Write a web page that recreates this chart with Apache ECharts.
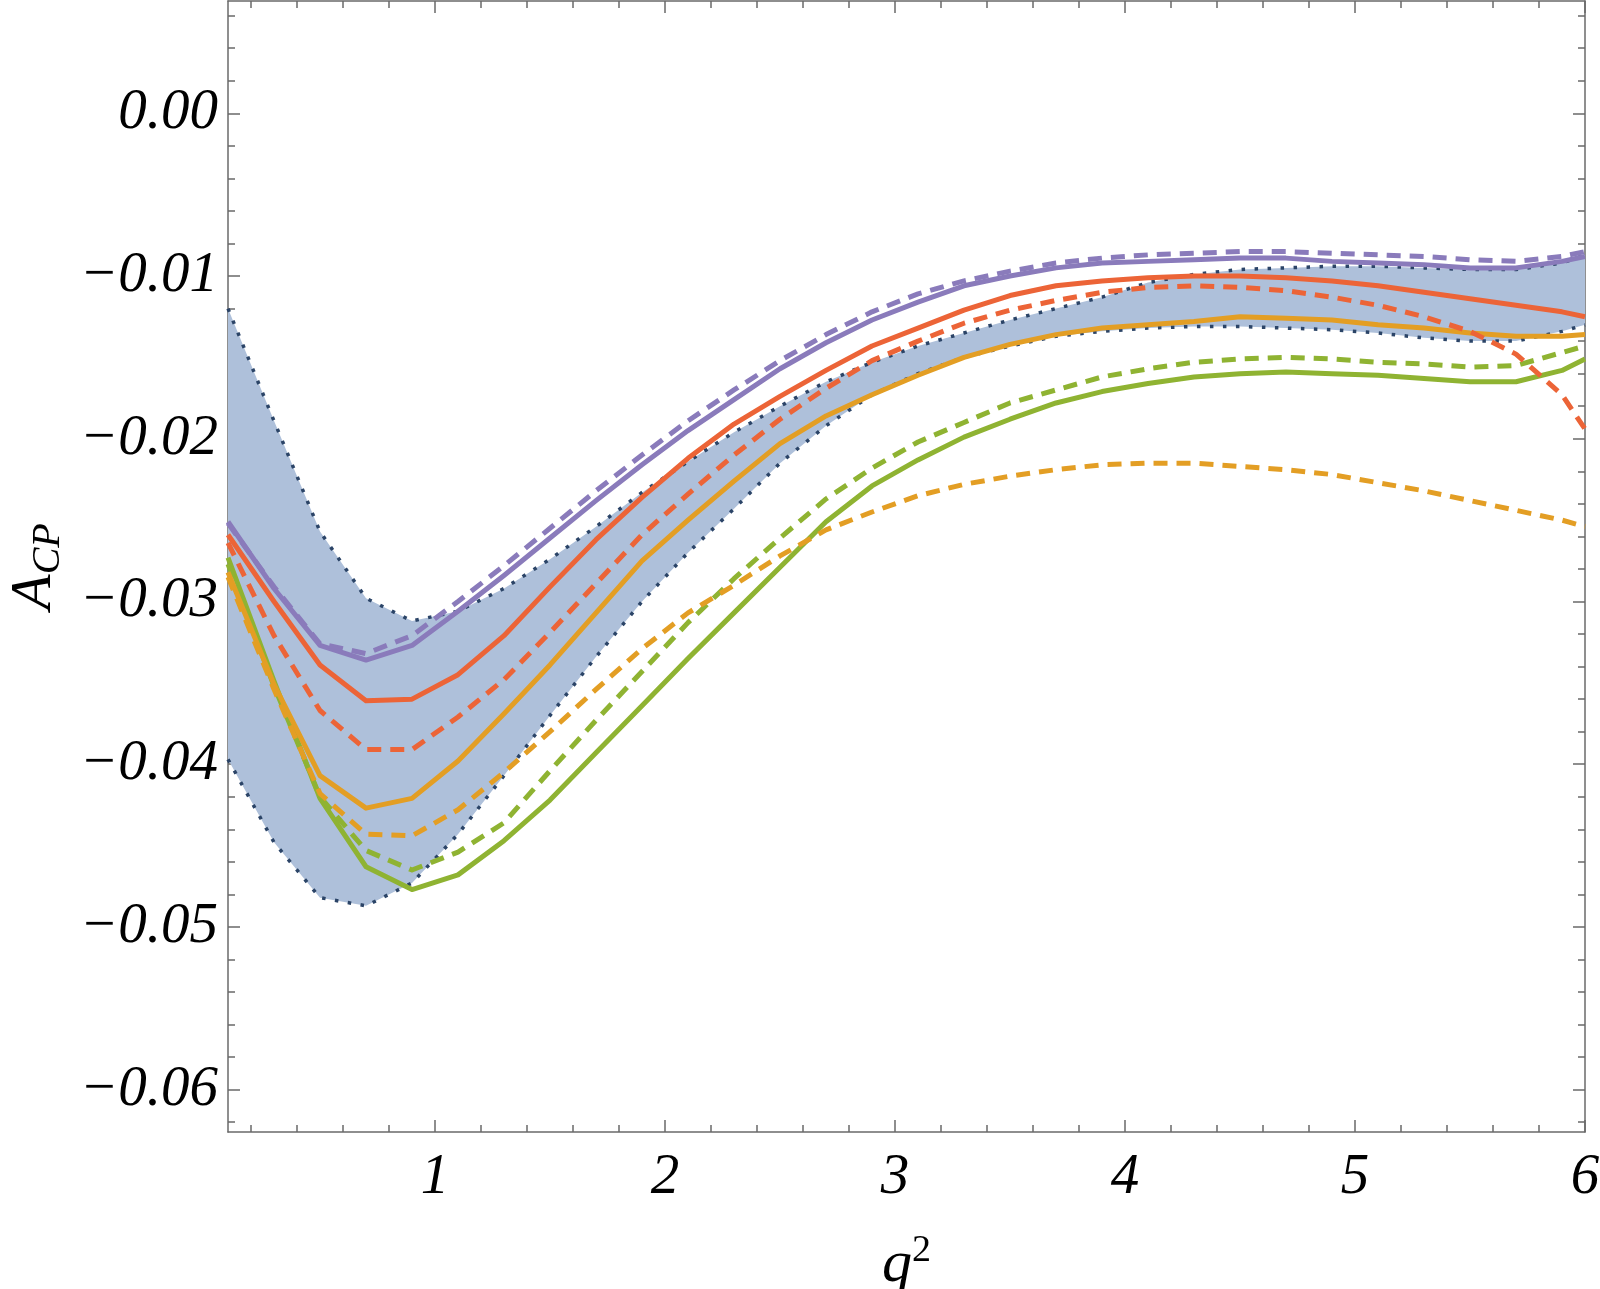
<!DOCTYPE html>
<html>
<head>
<meta charset="utf-8">
<title>A_CP vs q^2</title>
<script src="https://cdn.jsdelivr.net/npm/echarts@6/dist/echarts.min.js"></script>
<style>
  html, body { margin: 0; padding: 0; background: #fff; }
  #chart { width: 1600px; height: 1289px; }
</style>
</head>
<body>
<div id="chart"></div>
<script>
// sample points in q^2
const q2 = [0.1, 0.3, 0.5, 0.7, 0.9, 1.1, 1.3, 1.5, 1.7, 1.9, 2.1, 2.3, 2.5, 2.7, 2.9, 3.1,
  3.3, 3.5, 3.7, 3.9, 4.1, 4.3, 4.5, 4.7, 4.9, 5.1, 5.3, 5.5, 5.7, 5.9, 6.0];

// shaded band (dotted edges)
const bandUpper = [-0.0120, -0.0189, -0.0257, -0.0298, -0.0312, -0.0306, -0.0292, -0.0274, -0.0254, -0.0233,
  -0.0214, -0.0196, -0.0180, -0.0165, -0.0153, -0.0143, -0.0135, -0.0127, -0.0120, -0.0113,
  -0.0104, -0.0099, -0.0096, -0.0095, -0.0094, -0.0094, -0.0095, -0.0096, -0.0096, -0.0092, -0.0087];
const bandLower = [-0.0397, -0.0448, -0.0482, -0.0487, -0.0473, -0.0443, -0.0407, -0.0370, -0.0334, -0.0300,
  -0.0270, -0.0243, -0.0215, -0.0192, -0.0173, -0.0160, -0.0150, -0.0143, -0.0137, -0.0134,
  -0.0132, -0.0131, -0.0131, -0.0132, -0.0133, -0.0135, -0.0138, -0.0140, -0.0140, -0.0134, -0.0130];

const purpleSolid = [-0.0251, -0.0292, -0.0327, -0.0336, -0.0327, -0.0306, -0.0284, -0.0261, -0.0238, -0.0216,
  -0.0195, -0.0176, -0.0157, -0.0141, -0.0127, -0.0116, -0.0106, -0.0100, -0.0095, -0.0092,
  -0.0091, -0.0090, -0.0089, -0.0089, -0.0091, -0.0092, -0.0093, -0.0095, -0.0095, -0.0091, -0.0088];
const purpleDashed = [-0.0252, -0.0291, -0.0326, -0.0332, -0.0321, -0.0300, -0.0278, -0.0255, -0.0232, -0.0210,
  -0.0189, -0.0170, -0.0152, -0.0136, -0.0122, -0.0111, -0.0103, -0.0097, -0.0092, -0.0089,
  -0.0087, -0.0086, -0.0085, -0.0085, -0.0086, -0.0087, -0.0088, -0.0090, -0.0091, -0.0088, -0.0085];

const redSolid = [-0.0259, -0.0300, -0.0339, -0.0361, -0.0360, -0.0345, -0.0321, -0.0291, -0.0262, -0.0236,
  -0.0212, -0.0191, -0.0174, -0.0158, -0.0143, -0.0132, -0.0121, -0.0112, -0.0106, -0.0103,
  -0.0101, -0.0100, -0.0100, -0.0101, -0.0103, -0.0106, -0.0110, -0.0114, -0.0118, -0.0122, -0.0125];
const redDashed = [-0.0264, -0.0321, -0.0367, -0.0391, -0.0391, -0.0371, -0.0348, -0.0319, -0.0289, -0.0259,
  -0.0234, -0.0210, -0.0188, -0.0169, -0.0152, -0.0140, -0.0129, -0.0121, -0.0115, -0.0110,
  -0.0107, -0.0106, -0.0107, -0.0109, -0.0113, -0.0118, -0.0125, -0.0134, -0.0148, -0.0173, -0.0194];

const orangeSolid = [-0.0282, -0.0351, -0.0407, -0.0427, -0.0421, -0.0398, -0.0369, -0.0339, -0.0307, -0.0275,
  -0.0250, -0.0226, -0.0203, -0.0186, -0.0173, -0.0161, -0.0150, -0.0142, -0.0136, -0.0132,
  -0.0130, -0.0128, -0.0125, -0.0126, -0.0127, -0.0130, -0.0132, -0.0135, -0.0137, -0.0137, -0.0136];
const orangeDashed = [-0.0285, -0.0354, -0.0418, -0.0443, -0.0444, -0.0428, -0.0405, -0.0380, -0.0354, -0.0329,
  -0.0307, -0.0290, -0.0272, -0.0256, -0.0245, -0.0235, -0.0228, -0.0223, -0.0219, -0.0216,
  -0.0215, -0.0215, -0.0217, -0.0219, -0.0222, -0.0227, -0.0232, -0.0238, -0.0244, -0.0250, -0.0254];

const greenSolid = [-0.0273, -0.0349, -0.0421, -0.0463, -0.0477, -0.0468, -0.0447, -0.0422, -0.0393, -0.0364,
  -0.0335, -0.0307, -0.0279, -0.0251, -0.0229, -0.0213, -0.0199, -0.0188, -0.0178, -0.0171,
  -0.0166, -0.0162, -0.0160, -0.0159, -0.0160, -0.0161, -0.0163, -0.0165, -0.0165, -0.0158, -0.0151];
const greenDashed = [-0.0277, -0.0352, -0.0420, -0.0453, -0.0465, -0.0454, -0.0436, -0.0404, -0.0373, -0.0343,
  -0.0313, -0.0286, -0.0261, -0.0237, -0.0218, -0.0202, -0.0190, -0.0178, -0.0170, -0.0162,
  -0.0157, -0.0153, -0.0151, -0.0150, -0.0151, -0.0153, -0.0154, -0.0156, -0.0155, -0.0147, -0.0143];

// ticks
const xTicks = [1, 2, 3, 4, 5, 6];
const yTicks = [-0.06, -0.05, -0.04, -0.03, -0.02, -0.01, 0];

const xMinor = [];
for (let k = 1; k <= 30; k++) if (k % 5 !== 0) xMinor.push(+(k * 0.2).toFixed(1));
const yMinor = [];
for (let k = -31; k <= 3; k++) if (k % 5 !== 0) yMinor.push(+(k * 0.002).toFixed(3));

const X_MIN = 0.1, X_MAX = 6;
const Y_MIN = -0.0626, Y_MAX = 0.0069;

const serif = "'Liberation Serif', 'DejaVu Serif', serif";
const frameColor = "#6a6a6a";
const colors = {
  band: "#aec0da",
  bandEdge: "#2b4467",
  purple: "#8a7bbb",
  red: "#ec6437",
  orange: "#e39e24",
  green: "#8fb332",
};
const DASH = [14, 9];
const DOT = [3.5, 9.5];

const labelStyle = {
  fontFamily: serif, fontStyle: "italic", fontSize: 57, color: "#000",
};

function xAxisDef(major, withLine, extra) {
  return Object.assign({
    type: "value", min: X_MIN, max: X_MAX,
    axisLine: { show: withLine, onZero: false, lineStyle: { color: frameColor, width: 1.5 } },
    axisTick: {
      show: true, inside: true, length: major ? 12 : 7,
      customValues: major ? xTicks : xMinor,
      lineStyle: { color: frameColor, width: 1.5 },
    },
    axisLabel: { show: false },
    splitLine: { show: false },
  }, extra);
}

function yAxisDef(major, withLine, extra) {
  return Object.assign({
    type: "value", min: Y_MIN, max: Y_MAX,
    axisLine: { show: withLine, onZero: false, lineStyle: { color: frameColor, width: 1.5 } },
    axisTick: {
      show: true, inside: true, length: major ? 12 : 7,
      customValues: major ? yTicks : yMinor,
      lineStyle: { color: frameColor, width: 1.5 },
    },
    axisLabel: { show: false },
    splitLine: { show: false },
  }, extra);
}

function curve(name, ys, color, dash, width) {
  return {
    name: name, type: "line",
    data: q2.map((x, i) => [x, ys[i]]),
    symbol: "none", silent: true, z: 4,
    lineStyle: { color: color, width: width || 5, type: dash || "solid", cap: "butt", join: "round" },
  };
}

// band polygon: upper edge left to right, then lower edge back
function renderBand(params, api) {
  if (params.dataIndex !== 0) return null;
  const top = q2.map((x, i) => api.coord([x, bandUpper[i]]));
  const bottom = q2.map((x, i) => api.coord([x, bandLower[i]])).reverse();
  return {
    type: "polygon",
    shape: { points: top.concat(bottom) },
    style: { fill: colors.band },
  };
}

const chart = echarts.init(document.getElementById("chart"), null, { renderer: "canvas" });

const option = {
  animation: false,
  backgroundColor: "#fff",
  grid: { left: 228, right: 15, top: 1, bottom: 157, containLabel: false, outerBoundsMode: "none" },
  xAxis: [
    xAxisDef(true, true, {
      position: "bottom",
      axisLabel: Object.assign({
        show: true, customValues: xTicks, margin: 18,
        formatter: (v) => String(Math.round(v)),
      }, labelStyle),
      name: "{q|q}{s|2}",
      nameLocation: "middle",
      nameGap: 100,
      nameTextStyle: {
        rich: {
          q: { fontFamily: serif, fontStyle: "italic", fontSize: 60, color: "#000" },
          s: { fontFamily: serif, fontSize: 38, color: "#000", verticalAlign: "bottom", padding: [0, 0, 28, 0] },
        },
      },
    }),
    xAxisDef(true, true, { position: "top" }),
    xAxisDef(false, false, { position: "bottom" }),
    xAxisDef(false, false, { position: "top" }),
  ],
  yAxis: [
    yAxisDef(true, true, {
      position: "left",
      axisLabel: Object.assign({
        show: true, customValues: yTicks, margin: 10,
        formatter: (v) => (v < -1e-9 ? "\u2212" : "") + Math.abs(v).toFixed(2),
      }, labelStyle),
      name: "{a|A}{s|CP}",
      nameLocation: "middle",
      nameGap: 148,
      nameTextStyle: {
        rich: {
          a: { fontFamily: serif, fontStyle: "italic", fontSize: 58, color: "#000" },
          s: { fontFamily: serif, fontStyle: "italic", fontSize: 40, color: "#000", verticalAlign: "top", padding: [28, 0, 0, 0] },
        },
      },
    }),
    yAxisDef(true, true, { position: "right" }),
    yAxisDef(false, false, { position: "left" }),
    yAxisDef(false, false, { position: "right" }),
  ],
  series: [
    {
      name: "band", type: "custom", silent: true, z: 1,
      data: q2.map((x, i) => [x, bandLower[i], bandUpper[i]]),
      encode: { x: 0, y: [1, 2] },
      renderItem: renderBand,
    },
    curve("bandUpper", bandUpper, colors.bandEdge, DOT, 3.5),
    curve("bandLower", bandLower, colors.bandEdge, DOT, 3.5),
    curve("greenSolid", greenSolid, colors.green),
    curve("greenDashed", greenDashed, colors.green, DASH),
    curve("orangeSolid", orangeSolid, colors.orange),
    curve("orangeDashed", orangeDashed, colors.orange, DASH),
    curve("redSolid", redSolid, colors.red),
    curve("redDashed", redDashed, colors.red, DASH),
    curve("purpleSolid", purpleSolid, colors.purple),
    curve("purpleDashed", purpleDashed, colors.purple, DASH),
  ],
};

chart.setOption(option);
</script>
</body>
</html>
